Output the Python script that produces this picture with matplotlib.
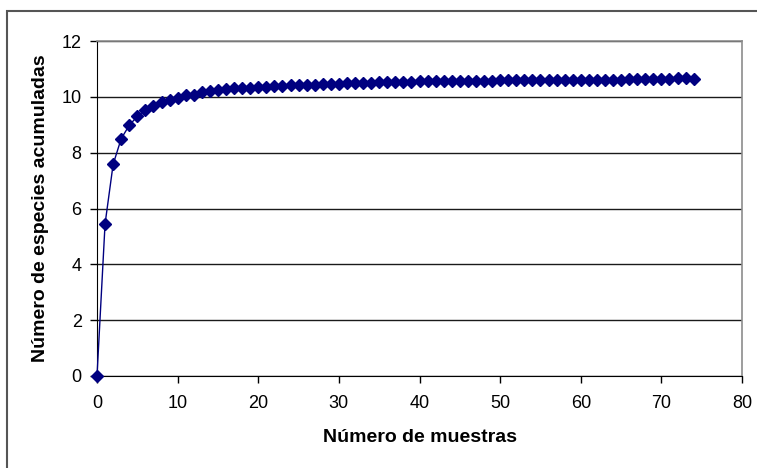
import matplotlib
matplotlib.use("Agg")
import matplotlib.pyplot as plt
from matplotlib.patches import Rectangle
from matplotlib import font_manager

# Accumulated species curve
muestras = list(range(0, 75))
especies = [
    0, 5.45, 7.58, 8.5, 8.98, 9.3, 9.53, 9.68, 9.8, 9.89, 9.97,
    10.06, 10.07, 10.16, 10.22, 10.25, 10.28, 10.30, 10.31, 10.33, 10.35,
    10.37, 10.38, 10.40, 10.41, 10.42, 10.43, 10.44, 10.46, 10.46, 10.47,
    10.48, 10.49, 10.50, 10.51, 10.52, 10.53, 10.53, 10.54, 10.54, 10.55,
    10.55, 10.56, 10.56, 10.56, 10.57, 10.57, 10.58, 10.58, 10.58, 10.59,
    10.59, 10.59, 10.60, 10.60, 10.60, 10.60, 10.61, 10.61, 10.61, 10.61,
    10.62, 10.62, 10.62, 10.62, 10.62, 10.63, 10.63, 10.63, 10.63, 10.64,
    10.65, 10.66, 10.66, 10.65,
]
x_ticks = [0, 10, 20, 30, 40, 50, 60, 70, 80]
y_ticks = [0, 2, 4, 6, 8, 10, 12]
x_label = "Número de muestras"
y_label = "Número de especies acumuladas"

available = {f.name for f in font_manager.fontManager.ttflist}
narrow = "Liberation Sans Narrow" if "Liberation Sans Narrow" in available else "Liberation Sans"
plt.rcParams["font.family"] = [narrow, "DejaVu Sans"]

W, H = 757, 468
fig = plt.figure(figsize=(W / 100, H / 100), dpi=100)
ax = fig.add_axes([97 / W, 1 - 376 / H, (742 - 97) / W, (376 - 41) / H])

navy = "#000080"
ax.plot(muestras, especies, color=navy, lw=1.0, marker="D", ms=6,
        mfc=navy, mec=navy, clip_on=False, zorder=3)

ax.set_xlim(0, 80)
ax.set_ylim(0, 12)
ax.set_xticks(x_ticks)
ax.set_yticks(y_ticks)
ax.tick_params(axis="both", direction="out", length=5, width=1, color="black",
               labelsize=13, labelcolor="black")
ax.tick_params(axis="y", pad=6)
ax.tick_params(axis="x", pad=9)

ax.grid(axis="y", color="#1a1a1a", lw=1.0, zorder=1)
ax.set_axisbelow(True)
for side in ("top", "right"):
    ax.spines[side].set_color("#8c8c8c")
    ax.spines[side].set_linewidth(1.2)
ax.spines["left"].set_color("black")
ax.spines["bottom"].set_color("black")

ax.set_xlabel(x_label, fontsize=14, fontweight="bold", labelpad=12)
ax.set_ylabel(y_label, fontsize=14, fontweight="bold", labelpad=9)

# Chart area border
fig.patches.append(Rectangle((7 / W, -0.1), 1.2, 1 - 11 / H + 0.1,
                             transform=fig.transFigure, fill=False,
                             edgecolor="#555555", lw=1.5))

fig.savefig("out.png", dpi=100)
